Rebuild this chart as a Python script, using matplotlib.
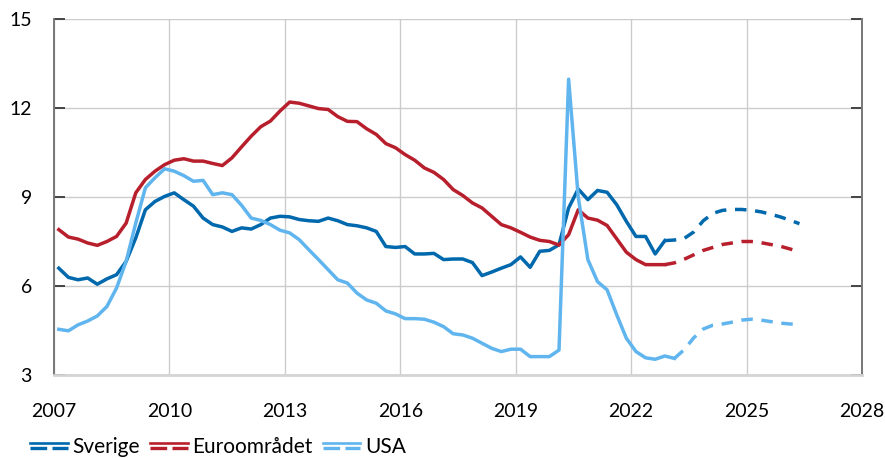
import matplotlib
matplotlib.use('Agg')
import matplotlib.pyplot as plt
from matplotlib.lines import Line2D
from matplotlib.legend_handler import HandlerBase
import numpy as np
import pandas as pd

# quarterly data, outcome from 2007Q1
sverige = [6.60, 6.29, 6.21, 6.27, 6.06, 6.24, 6.38, 6.83, 7.62, 8.57, 8.85, 9.02, 9.14, 8.91, 8.69, 8.29,
           8.07, 7.99, 7.84, 7.96, 7.92, 8.07, 8.29, 8.35, 8.33, 8.24, 8.20, 8.18, 8.29, 8.20, 8.07, 8.03,
           7.96, 7.84, 7.33, 7.30, 7.33, 7.08, 7.08, 7.10, 6.89, 6.91, 6.91, 6.79, 6.35, 6.47, 6.60, 6.72,
           6.98, 6.63, 7.17, 7.20, 7.39, 8.63, 9.27, 8.91, 9.22, 9.16, 8.74, 8.18, 7.67, 7.67, 7.08, 7.53]
euro = [7.90, 7.65, 7.58, 7.45, 7.37, 7.50, 7.67, 8.12, 9.14, 9.59, 9.87, 10.09, 10.24, 10.29, 10.21, 10.21,
        10.13, 10.06, 10.32, 10.69, 11.05, 11.37, 11.56, 11.90, 12.20, 12.16, 12.07, 11.98, 11.95, 11.71, 11.55, 11.54,
        11.30, 11.11, 10.80, 10.66, 10.43, 10.24, 9.98, 9.83, 9.59, 9.25, 9.05, 8.80, 8.63, 8.35, 8.07, 7.96,
        7.81, 7.65, 7.54, 7.50, 7.38, 7.73, 8.57, 8.29, 8.22, 8.04, 7.59, 7.14, 6.89, 6.72, 6.72, 6.72]
usa = [4.54, 4.49, 4.69, 4.82, 4.99, 5.31, 5.93, 6.83, 8.12, 9.31, 9.65, 9.95, 9.87, 9.72, 9.53, 9.56,
       9.08, 9.14, 9.08, 8.72, 8.29, 8.21, 8.07, 7.88, 7.79, 7.56, 7.22, 6.89, 6.55, 6.21, 6.10, 5.76,
       5.53, 5.42, 5.16, 5.06, 4.90, 4.90, 4.88, 4.78, 4.63, 4.39, 4.35, 4.24, 4.07, 3.90, 3.79, 3.87,
       3.87, 3.62, 3.62, 3.62, 3.84, 12.97, 9.00, 6.89, 6.15, 5.87, 5.03, 4.24, 3.79, 3.58, 3.53, 3.64, 3.56]

# forecasts, starting at the last outcome quarter
sverige_prog = [7.53, 7.55, 7.60, 7.82, 8.20, 8.45, 8.55, 8.58, 8.58, 8.55, 8.50, 8.42, 8.33, 8.22, 8.10]
euro_prog = [6.72, 6.78, 6.90, 7.05, 7.20, 7.30, 7.40, 7.45, 7.50, 7.50, 7.46, 7.40, 7.34, 7.25, 7.15]
usa_prog = [3.56, 3.85, 4.25, 4.55, 4.68, 4.72, 4.78, 4.85, 4.88, 4.85, 4.80, 4.75, 4.72, 4.71]

quarters = pd.period_range('2007Q1', '2026Q2', freq='Q')
xq = np.array([q.year + (q.quarter - 1) / 4 + 0.125 for q in quarters])

labels = ['Sverige', 'Euroområdet', 'USA']
colors = ['#0068ad', '#b81f2c', '#60b5ef']


class SolidDashHandler(HandlerBase):
    # legend key: thin solid line on top, dashed line below
    def create_artists(self, legend, orig_handle, xdescent, ydescent, width, height, fontsize, trans):
        c = orig_handle.get_color()
        y = height / 2 - ydescent
        x0, x1 = -xdescent, width - xdescent
        top = Line2D([x0, x1], [y + 2.3, y + 2.3], color=c, lw=1.9, transform=trans)
        bot = Line2D([x0, x1], [y - 2.0, y - 2.0], color=c, lw=2.4,
                     dashes=(5.0, 1.6), dash_capstyle='butt', transform=trans)
        return [top, bot]


plt.rcParams['font.family'] = ['Lato', 'DejaVu Sans']
plt.rcParams['font.size'] = 14

fig = plt.figure(figsize=(8.85, 4.58), dpi=100)
ax = fig.add_axes([54 / 885, 1 - 375 / 458, 808 / 885, 356 / 458])

lw = 2.5
dash = (3.3, 2.5)
hist = [sverige, euro, usa]
prog = [sverige_prog, euro_prog, usa_prog]
for h, p, c in zip(hist, prog, colors):
    n = len(h)
    ax.plot(xq[:n], h, color=c, lw=lw, zorder=3)
    ax.plot(xq[n - 1:n - 1 + len(p)], p, color=c, lw=lw, dashes=dash, zorder=3)

ax.set_xlim(2007, 2028)
ax.set_ylim(3, 15)
ax.set_xticks(range(2007, 2029, 3))
ax.set_yticks([3, 6, 9, 12, 15])
ax.grid(True, color='#cccccc', lw=1.0, zorder=0)
ax.set_axisbelow(True)

ax.tick_params(axis='x', length=0, pad=20, labelsize=14)
ax.tick_params(axis='y', direction='in', length=8, width=1.4, color='#444444',
               right=True, left=True, pad=16, labelsize=14)
for s in ['left', 'right']:
    ax.spines[s].set_color('#777777')
    ax.spines[s].set_linewidth(1.4)
ax.spines['bottom'].set_color('#d4d4d4')
ax.spines['bottom'].set_linewidth(2.0)
ax.spines['top'].set_visible(False)

handles = [Line2D([], [], color=c) for c in colors]
fig.legend(handles, labels, loc='center left', bbox_to_anchor=(30 / 885, 1 - 447 / 458),
           ncol=3, frameon=False, handlelength=1.8, handletextpad=0.22, columnspacing=0.5,
           borderpad=0, borderaxespad=0, fontsize=15,
           handler_map={Line2D: SolidDashHandler()})

fig.savefig('out.png', dpi=100)
